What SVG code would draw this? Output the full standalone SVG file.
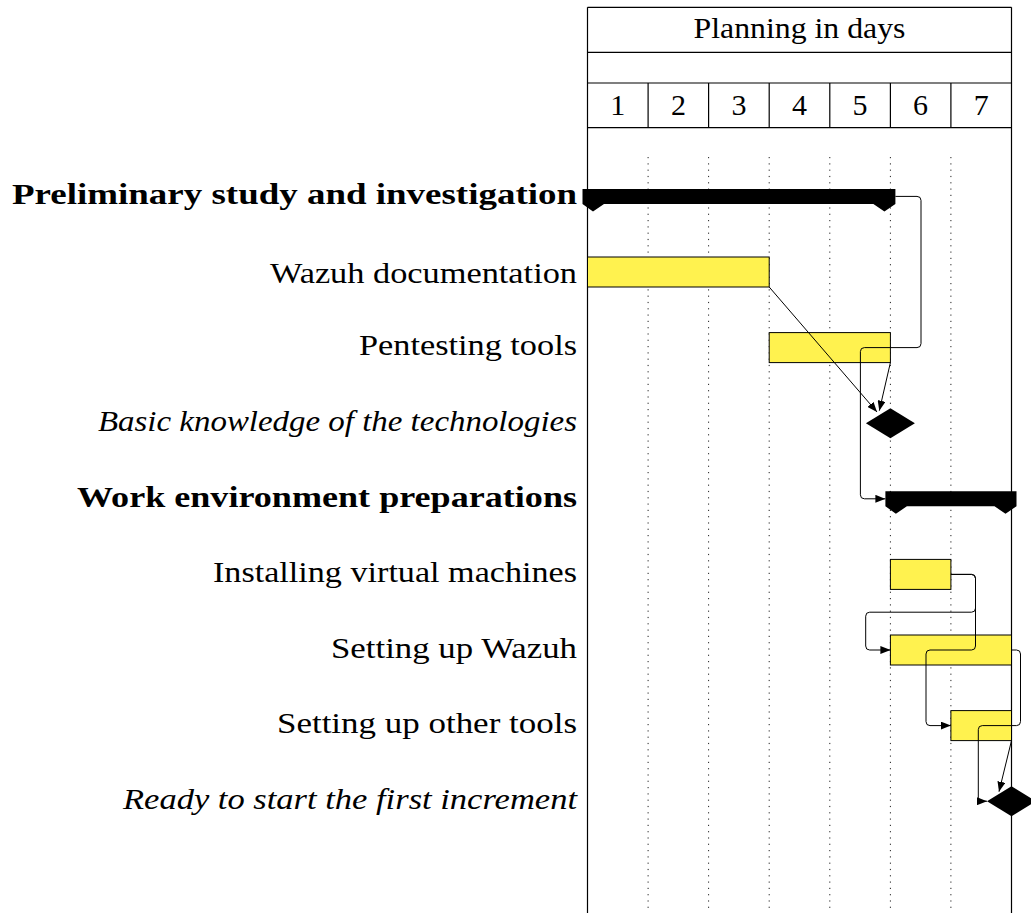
<svg xmlns="http://www.w3.org/2000/svg" width="1031" height="913" viewBox="0 0 1031 913">
<style>
  .frame{fill:none;stroke:#000;stroke-width:1.2}
  .grid{fill:none;stroke:#222;stroke-width:1;stroke-dasharray:1.2 5.1}
  .bar{fill:#fff24f;stroke:#000;stroke-width:1}
  .group{fill:#000;stroke:none}
  .ms{fill:#000;stroke:none}
  .link{fill:none;stroke:#000;stroke-width:1;marker-end:url(#arr)}
  text{font-family:"Liberation Serif","Times New Roman",serif;font-size:30px;fill:#000}
  .lbl{text-anchor:end}
  .b{font-weight:bold}
  .i{font-style:italic}
  .c{text-anchor:middle}
</style>
<defs>
  <marker id="arr" viewBox="0 0 10 8" refX="10" refY="4" markerWidth="10" markerHeight="8" markerUnits="userSpaceOnUse" orient="auto">
    <path d="M0,0 L10,4 L0,8 Z" fill="#000"/>
  </marker>
</defs>
<rect width="1031" height="913" fill="#fff"/>

<g id="header">
  <line class="frame" x1="587.5" y1="7.3" x2="1011.5" y2="7.3"/>
  <line class="frame" x1="587.5" y1="52.3" x2="1011.5" y2="52.3"/>
  <line class="frame" x1="587.5" y1="83" x2="1011.5" y2="83"/>
  <line class="frame" x1="587.5" y1="127.7" x2="1011.5" y2="127.7"/>
  <line class="frame" x1="587.5" y1="7.3" x2="587.5" y2="913"/>
  <line class="frame" x1="1011.5" y1="7.3" x2="1011.5" y2="913"/>
  <line class="frame" x1="648.1" y1="83" x2="648.1" y2="127.7"/>
  <line class="frame" x1="708.6" y1="83" x2="708.6" y2="127.7"/>
  <line class="frame" x1="769.2" y1="83" x2="769.2" y2="127.7"/>
  <line class="frame" x1="829.8" y1="83" x2="829.8" y2="127.7"/>
  <line class="frame" x1="890.4" y1="83" x2="890.4" y2="127.7"/>
  <line class="frame" x1="950.9" y1="83" x2="950.9" y2="127.7"/>
  <text class="c" x="799.5" y="38" textLength="212" lengthAdjust="spacingAndGlyphs">Planning in days</text>
  <text class="c" x="617.8" y="115">1</text>
  <text class="c" x="678.4" y="115">2</text>
  <text class="c" x="738.9" y="115">3</text>
  <text class="c" x="799.5" y="115">4</text>
  <text class="c" x="860.1" y="115">5</text>
  <text class="c" x="920.6" y="115">6</text>
  <text class="c" x="981.2" y="115">7</text>
</g>

<g id="grid">
  <line class="grid" x1="648.1" y1="157" x2="648.1" y2="913"/>
  <line class="grid" x1="708.6" y1="157" x2="708.6" y2="913"/>
  <line class="grid" x1="769.2" y1="157" x2="769.2" y2="913"/>
  <line class="grid" x1="829.8" y1="157" x2="829.8" y2="913"/>
  <line class="grid" x1="890.4" y1="157" x2="890.4" y2="913"/>
  <line class="grid" x1="950.9" y1="157" x2="950.9" y2="913"/>
</g>

<g id="preliminary">
  <text class="lbl b" x="577" y="204" textLength="565" lengthAdjust="spacingAndGlyphs">Preliminary study and investigation</text>
  <path class="group" d="M582.5,189 H895.4 V204 L884.4,211.4 L873.4,204 H604 L593,211.4 L582.5,204 Z"/>
</g>
<g id="wazuh-doc">
  <text class="lbl" x="577" y="282.5" textLength="307" lengthAdjust="spacingAndGlyphs">Wazuh documentation</text>
  <rect class="bar" x="587.5" y="257" width="181.7" height="30"/>
</g>
<g id="pentesting">
  <text class="lbl" x="577" y="355.3" textLength="218" lengthAdjust="spacingAndGlyphs">Pentesting tools</text>
  <rect class="bar" x="769.2" y="332.6" width="121.2" height="30"/>
</g>
<g id="basic-knowledge">
  <text class="lbl i" x="577" y="431" textLength="479" lengthAdjust="spacingAndGlyphs">Basic knowledge of the technologies</text>
  <path class="ms" d="M890.4,408.2 L914.9,423.2 L890.4,438.2 L865.9,423.2 Z"/>
</g>
<g id="work-env">
  <text class="lbl b" x="577" y="506.5" textLength="500" lengthAdjust="spacingAndGlyphs">Work environment preparations</text>
  <path class="group" d="M885.4,491.3 H1016.5 V506.3 L1005.5,513.7 L994.5,506.3 H906.9 L895.9,513.7 L885.4,506.3 Z"/>
</g>
<g id="installing-vms">
  <text class="lbl" x="577" y="582.2" textLength="364" lengthAdjust="spacingAndGlyphs">Installing virtual machines</text>
  <rect class="bar" x="890.4" y="559.4" width="60.5" height="30"/>
</g>
<g id="setting-wazuh">
  <text class="lbl" x="577" y="657.8" textLength="246" lengthAdjust="spacingAndGlyphs">Setting up Wazuh</text>
  <rect class="bar" x="890.4" y="635" width="121.1" height="30"/>
</g>
<g id="setting-other">
  <text class="lbl" x="577" y="733.4" textLength="300" lengthAdjust="spacingAndGlyphs">Setting up other tools</text>
  <rect class="bar" x="950.9" y="710.6" width="60.6" height="30"/>
</g>
<g id="ready">
  <text class="lbl i" x="577" y="809" textLength="454" lengthAdjust="spacingAndGlyphs">Ready to start the first increment</text>
  <path class="ms" d="M1011.5,786.2 L1036,801.2 L1011.5,816.2 L987,801.2 Z"/>
</g>

<g id="connectors">
  <path class="link" d="M895.4,196.4 H917 Q921,196.4 921,200.4 V343.6 Q921,347.6 917,347.6 H864.4 Q860.4,347.6 860.4,351.6 V494.8 Q860.4,498.8 864.4,498.8 H885.4"/>
  <path class="link" d="M769.2,287 L877,412"/>
  <path class="link" d="M890.4,362.6 L879.3,410.7"/>
  <path class="link" d="M950.9,574.4 H971.5 Q975.5,574.4 975.5,578.4 V608.2 Q975.5,612.2 971.5,612.2 H869.7 Q865.7,612.2 865.7,616.2 V646 Q865.7,650 869.7,650 H890.4"/>
  <path class="link" d="M950.9,574.4 H971.5 Q975.5,574.4 975.5,578.4 V646 Q975.5,650 971.5,650 H930 Q926,650 926,654 V721.6 Q926,725.6 930,725.6 H950.9"/>
  <path class="link" d="M1011.5,650 H1016.5 Q1020.5,650 1020.5,654 V721.6 Q1020.5,725.6 1016.5,725.6 H982.3 Q978.3,725.6 978.3,729.6 V797.2 Q978.3,801.2 982.3,801.2 H987"/>
  <path class="link" d="M1011.5,740.6 L999,791.7"/>
</g>
</svg>
